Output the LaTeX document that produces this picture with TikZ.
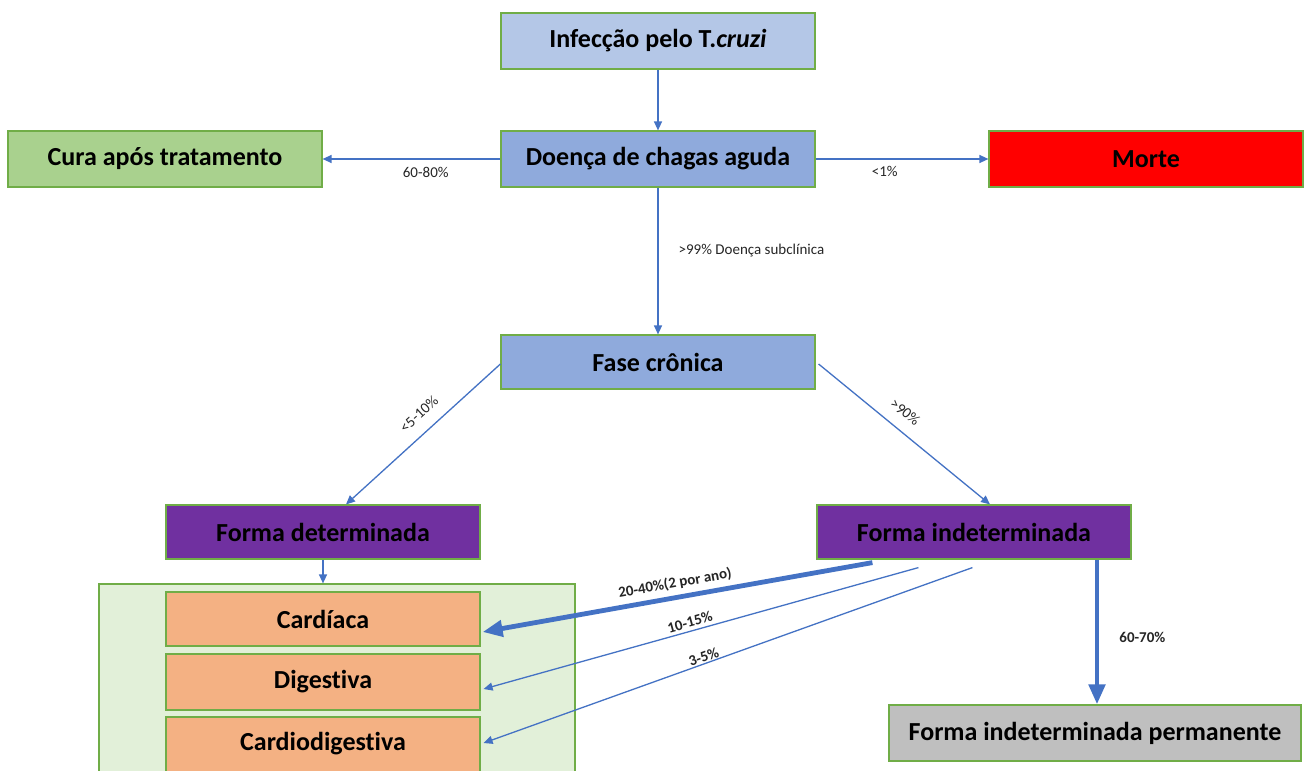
\documentclass[tikz,border=0pt]{standalone}
\usepackage{fontspec}
\setmainfont{Carlito}[Ligatures={NoCommon,NoRare}]
\usetikzlibrary{arrows.meta,calc}
\definecolor{bord}{HTML}{70AD47}
\definecolor{lblue}{HTML}{B4C7E7}
\definecolor{mblue}{HTML}{8FAADC}
\definecolor{lgreen}{HTML}{A9D18E}
\definecolor{pgreen}{HTML}{E2F0D9}
\definecolor{purp}{HTML}{7030A0}
\definecolor{orng}{HTML}{F4B183}
\definecolor{gry}{HTML}{BFBFBF}
\definecolor{arr}{HTML}{4472C4}
\begin{document}
\begin{tikzpicture}[x=1pt,y=-1pt,
  box/.style={draw=bord,line width=1.2pt,minimum width=314pt,minimum height=56pt,inner sep=0pt,
    font=\fontsize{26}{30}\selectfont\bfseries},
  thin/.style={draw=arr,line width=1.3pt,-{Triangle[length=9pt,width=8pt]}},
  thick/.style={draw=arr,line width=4.8pt,-{Triangle[length=20pt,width=16pt]}},
  lbl/.style={font=\fontsize{15}{18}\selectfont,text=black!85,inner sep=2pt},
  blbl/.style={font=\fontsize{15}{18}\selectfont\bfseries,text=black!85,inner sep=2pt}]
\useasboundingbox (0,0) rectangle (1307,771);
\fill[white] (0,0) rectangle (1307,771);
% boxes
\node[box,fill=lblue] (inf) at (658,41) {Infecção pelo T.\textit{cruzi}};
\node[box,fill=mblue] (aguda) at (658,159) {Doença de chagas aguda};
\node[box,fill=lgreen] (cura) at (165,159) {Cura após tratamento};
\node[box,fill=red] (morte) at (1146,159) {Morte};
\node[box,fill=mblue,minimum height=54pt] (fase) at (658,362) {Fase crônica};
\node[box,fill=purp,minimum height=54pt] (fdet) at (323,532) {Forma determinada};
\node[box,fill=purp,minimum height=54pt] (find) at (974,532) {Forma indeterminada};
\node[draw=bord,line width=1.2pt,fill=pgreen,minimum width=476pt,minimum height=195pt,inner sep=0pt] (grp) at (337,681.5) {};
\node[box,fill=orng,minimum height=54pt] (card) at (323,619) {Cardíaca};
\node[box,fill=orng] (dig) at (323,682) {Digestiva};
\node[box,fill=orng,minimum height=58pt] (cdig) at (323,746) {};
\node[font=\fontsize{26}{30}\selectfont\bfseries] (cdigt) at (323,744) {Cardiodigestiva};
\node[box,fill=gry,minimum width=412pt] (perm) at (1095,733) {Forma indeterminada permanente};
% coordinates
\coordinate (fa1) at ($(fdet.north)+(23,0)$);
\coordinate (fb1) at ($(find.north)+(16,0)$);
\coordinate (s1) at ($(find.south west)+(56,3)$);
\coordinate (s2) at ($(find.south west)+(102,8)$);
\coordinate (s3) at ($(find.south west)+(156,8)$);
\coordinate (e1) at ($(card.east)+(2,13)$);
\coordinate (e2) at ($(dig.east)+(3,7)$);
\coordinate (e3) at ($(cdig.east)+(3,-3)$);
\coordinate (sp) at ($(find.south)+(123,0)$);
\coordinate (ep) at ($(perm.north)+(2,0)$);
% connectors
\draw[thin] (inf) -- (aguda);
\draw[thin] (aguda.west) -- node[lbl,pos=0.42,below=6pt]{60-80\%} (cura.east);
\draw[thin] (aguda.east) -- node[lbl,pos=0.40,below=5pt]{<1\%} (morte.west);
\draw[thin] (aguda.south) -- node[lbl,pos=0.43,anchor=west,xshift=18pt]{>99\% Doença subclínica} (fase.north);
\draw[thin] ($(fase.west)+(0,2)$) -- node[lbl,pos=0.45,sloped,above=10pt]{<5-10\%} (fa1);
\draw[thin] ($(fase.east)+(3,2)$) -- node[lbl,pos=0.44,sloped,above=10pt]{>90\%} (fb1);
\draw[thin] (fdet.south) -- (fdet.south |- grp.north);
\draw[thick] (s1) -- node[blbl,pos=0.5,sloped,above=3pt]{20-40\%(2 por ano)} (e1);
\draw[thin] (s2) -- node[blbl,pos=0.52,sloped,above=1pt]{10-15\%} (e2);
\draw[thin] (s3) -- node[blbl,pos=0.545,sloped,above=-1pt]{3-5\%} (e3);
\draw[thick] (sp) -- node[blbl,pos=0.54,anchor=west,xshift=18pt]{60-70\%} (ep);
\end{tikzpicture}
\end{document}
